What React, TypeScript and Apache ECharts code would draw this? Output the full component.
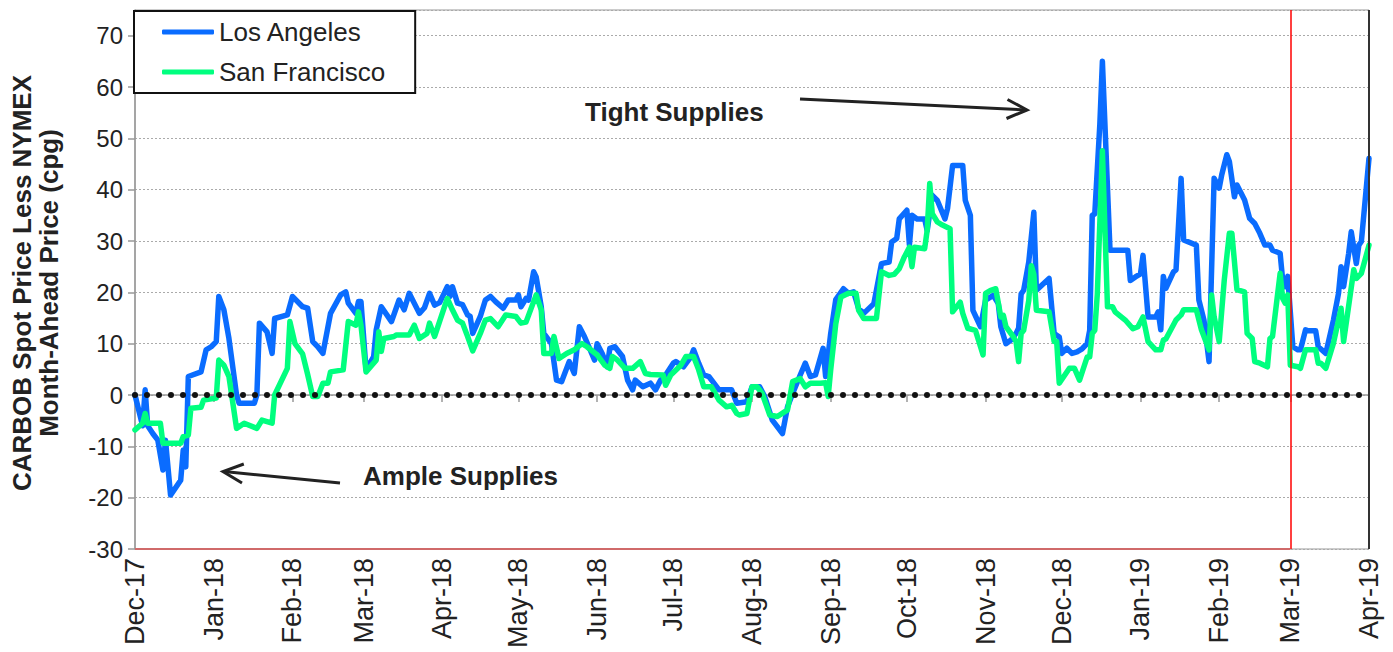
import React, { useEffect, useRef } from "react";
import * as echarts from "echarts";

const FONT = '"Liberation Sans", Arial, sans-serif';
const MONTHS = ["Jan", "Feb", "Mar", "Apr", "May", "Jun", "Jul", "Aug", "Sep", "Oct", "Nov", "Dec"];

const seriesNames = ["Los Angeles", "San Francisco"];
const seriesColors = ["#0A6CFF", "#00FF7F"];

const yTicks = { min: -30, max: 75, interval: 10 };
const cutoverDate = "2019-03-01";

const laData: [string, number][] = [
  ["2017-12-01", 0], ["2017-12-04", -6], ["2017-12-05", 1], ["2017-12-06", -6], ["2017-12-08", -7.5],
  ["2017-12-10", -8.8], ["2017-12-12", -14.6], ["2017-12-13", -8.8], ["2017-12-15", -19.5], ["2017-12-19", -16.6],
  ["2017-12-20", -10.7], ["2017-12-21", -14], ["2017-12-22", 3.6], ["2017-12-27", 4.5], ["2017-12-29", 8.8],
  ["2017-12-31", 9.4], ["2018-01-02", 10.4], ["2018-01-03", 19.2], ["2018-01-05", 16.6], ["2018-01-07", 11],
  ["2018-01-10", 0], ["2018-01-11", -1.6], ["2018-01-17", -1.6], ["2018-01-18", 0], ["2018-01-19", 14],
  ["2018-01-22", 12.3], ["2018-01-24", 8.1], ["2018-01-25", 14.9], ["2018-01-30", 15.6], ["2018-02-01", 19.2],
  ["2018-02-05", 17.2], ["2018-02-07", 16.9], ["2018-02-09", 10.4], ["2018-02-11", 9.4], ["2018-02-13", 8.1],
  ["2018-02-16", 15.9], ["2018-02-20", 19.5], ["2018-02-22", 20.1], ["2018-02-23", 17.9], ["2018-02-26", 15.9],
  ["2018-02-27", 18.2], ["2018-02-28", 18.2], ["2018-03-02", 4.9], ["2018-03-05", 7.5], ["2018-03-06", 12.7],
  ["2018-03-08", 17.2], ["2018-03-12", 14.3], ["2018-03-15", 18.5], ["2018-03-17", 16.6], ["2018-03-19", 19.8],
  ["2018-03-23", 15.9], ["2018-03-25", 17], ["2018-03-27", 19.8], ["2018-03-29", 17.5], ["2018-03-31", 18],
  ["2018-04-03", 21.1], ["2018-04-04", 19.2], ["2018-04-05", 21.1], ["2018-04-07", 17.9], ["2018-04-09", 17.6],
  ["2018-04-11", 15.6], ["2018-04-12", 15.3], ["2018-04-13", 12], ["2018-04-16", 15.3], ["2018-04-18", 18.5],
  ["2018-04-20", 19.2], ["2018-04-22", 18.2], ["2018-04-25", 16.9], ["2018-04-27", 18.5], ["2018-04-30", 18.5],
  ["2018-05-01", 19.5], ["2018-05-02", 17.2], ["2018-05-04", 18.8], ["2018-05-05", 18.5], ["2018-05-07", 24],
  ["2018-05-08", 23], ["2018-05-10", 17.2], ["2018-05-11", 12], ["2018-05-13", 10.7], ["2018-05-14", 10],
  ["2018-05-16", 2.9], ["2018-05-18", 2.6], ["2018-05-21", 6.5], ["2018-05-23", 4.2], ["2018-05-25", 13.3],
  ["2018-05-27", 11.4], ["2018-05-31", 6.8], ["2018-06-01", 10], ["2018-06-03", 8.1], ["2018-06-05", 5.5],
  ["2018-06-06", 9.1], ["2018-06-08", 9.4], ["2018-06-11", 7.5], ["2018-06-13", 2.9], ["2018-06-15", 1],
  ["2018-06-16", 2.9], ["2018-06-19", 1.6], ["2018-06-22", 2.3], ["2018-06-24", 1], ["2018-06-26", 2.9],
  ["2018-06-28", 3.9], ["2018-07-01", 6.2], ["2018-07-02", 6.5], ["2018-07-05", 5.5], ["2018-07-08", 7.5],
  ["2018-07-09", 8.8], ["2018-07-11", 6.2], ["2018-07-13", 3.9], ["2018-07-15", 3.6], ["2018-07-17", 2.3],
  ["2018-07-19", 1], ["2018-07-24", 1], ["2018-07-26", -1.6], ["2018-07-30", -1.3], ["2018-08-01", 1.6],
  ["2018-08-04", 1.6], ["2018-08-06", -0.3], ["2018-08-09", -4.9], ["2018-08-13", -7.5], ["2018-08-15", -2.3],
  ["2018-08-17", 0.3], ["2018-08-20", 3.9], ["2018-08-22", 6.2], ["2018-08-24", 3.6], ["2018-08-26", 3.9],
  ["2018-08-29", 9.1], ["2018-08-30", 3.6], ["2018-09-01", 12], ["2018-09-03", 18.6], ["2018-09-06", 20.7],
  ["2018-09-08", 19.8], ["2018-09-10", 20.1], ["2018-09-12", 16.8], ["2018-09-14", 15.9], ["2018-09-18", 17.8],
  ["2018-09-19", 20.4], ["2018-09-21", 25.6], ["2018-09-24", 25.9], ["2018-09-25", 29.8], ["2018-09-27", 30.5],
  ["2018-09-28", 34.3], ["2018-10-01", 36], ["2018-10-02", 29.2], ["2018-10-03", 35], ["2018-10-05", 34.3],
  ["2018-10-08", 34.3], ["2018-10-09", 32], ["2018-10-11", 38.9], ["2018-10-13", 37.9], ["2018-10-16", 34.3],
  ["2018-10-17", 36.3], ["2018-10-19", 44.7], ["2018-10-23", 44.7], ["2018-10-24", 37.9], ["2018-10-26", 35],
  ["2018-10-27", 16.5], ["2018-10-30", 13.3], ["2018-11-01", 18.5], ["2018-11-04", 19.4], ["2018-11-06", 17.8],
  ["2018-11-07", 13.3], ["2018-11-09", 10], ["2018-11-11", 10.7], ["2018-11-13", 12], ["2018-11-14", 13],
  ["2018-11-15", 19.7], ["2018-11-16", 20.4], ["2018-11-18", 25.9], ["2018-11-20", 35.6], ["2018-11-21", 20.4],
  ["2018-11-26", 22.7], ["2018-11-28", 12], ["2018-11-30", 11.3], ["2018-12-01", 8.1], ["2018-12-03", 9.1],
  ["2018-12-05", 8.1], ["2018-12-07", 8.4], ["2018-12-09", 9], ["2018-12-11", 10], ["2018-12-12", 12.6],
  ["2018-12-13", 35], ["2018-12-14", 35.3], ["2018-12-16", 52.8], ["2018-12-17", 65], ["2018-12-20", 28.2],
  ["2018-12-27", 28.2], ["2018-12-28", 22.3], ["2018-12-30", 23], ["2019-01-01", 23.6], ["2019-01-02", 27.2],
  ["2019-01-04", 15.2], ["2019-01-07", 15.2], ["2019-01-08", 16.2], ["2019-01-09", 12.7], ["2019-01-10", 23.1],
  ["2019-01-11", 20.8], ["2019-01-14", 24], ["2019-01-15", 24.4], ["2019-01-17", 42.2], ["2019-01-18", 30.2],
  ["2019-01-23", 29.2], ["2019-01-24", 18.5], ["2019-01-26", 14.6], ["2019-01-28", 6.5], ["2019-01-30", 42.2],
  ["2019-02-01", 40.3], ["2019-02-02", 42.9], ["2019-02-04", 46.8], ["2019-02-05", 45.5], ["2019-02-07", 38.6],
  ["2019-02-08", 40.9], ["2019-02-11", 38], ["2019-02-13", 34.4], ["2019-02-15", 33.4], ["2019-02-17", 31.5],
  ["2019-02-19", 29.2], ["2019-02-21", 29.2], ["2019-02-22", 28.2], ["2019-02-25", 27.6], ["2019-02-26", 22.4],
  ["2019-02-27", 21.1], ["2019-02-28", 23.1], ["2019-03-02", 9.4], ["2019-03-04", 8.8], ["2019-03-05", 8.8],
  ["2019-03-07", 12.7], ["2019-03-08", 12.5], ["2019-03-11", 12.5], ["2019-03-12", 9.4], ["2019-03-15", 8.1],
  ["2019-03-18", 14.6], ["2019-03-20", 19.8], ["2019-03-21", 25], ["2019-03-22", 21.1], ["2019-03-24", 27.6],
  ["2019-03-25", 31.8], ["2019-03-27", 25.6], ["2019-03-28", 29.2], ["2019-03-29", 29.9], ["2019-04-01", 46.1],
];

const sfData: [string, number][] = [
  ["2017-12-01", -6.8], ["2017-12-04", -5.5], ["2017-12-05", -3.6], ["2017-12-06", -5.5], ["2017-12-11", -5.5],
  ["2017-12-12", -9.4], ["2017-12-19", -9.4], ["2017-12-20", -8.1], ["2017-12-22", -7.8], ["2017-12-23", -2.6],
  ["2017-12-27", -2.4], ["2017-12-28", -1], ["2018-01-02", -0.6], ["2018-01-03", 6.8], ["2018-01-05", 5.8],
  ["2018-01-07", 3.6], ["2018-01-10", -6.5], ["2018-01-13", -5.5], ["2018-01-18", -6.5], ["2018-01-20", -4.9],
  ["2018-01-24", -5.5], ["2018-01-25", 0], ["2018-01-30", 5.2], ["2018-01-31", 14.3], ["2018-02-02", 10],
  ["2018-02-05", 8], ["2018-02-07", 4], ["2018-02-09", -0.3], ["2018-02-11", -0.3], ["2018-02-13", 2.3],
  ["2018-02-15", 2.3], ["2018-02-16", 4.5], ["2018-02-21", 4.9], ["2018-02-23", 14.3], ["2018-02-26", 13.6],
  ["2018-02-27", 16.2], ["2018-02-28", 13.6], ["2018-03-02", 4.5], ["2018-03-06", 6.8], ["2018-03-07", 12.3],
  ["2018-03-08", 8.5], ["2018-03-09", 11], ["2018-03-13", 11.4], ["2018-03-14", 11.7], ["2018-03-19", 11.7],
  ["2018-03-21", 13.6], ["2018-03-23", 11], ["2018-03-26", 12], ["2018-03-27", 14], ["2018-03-29", 11.4],
  ["2018-04-03", 18.8], ["2018-04-05", 16.6], ["2018-04-07", 14.6], ["2018-04-09", 14], ["2018-04-11", 11.4],
  ["2018-04-12", 10], ["2018-04-13", 8.6], ["2018-04-16", 12], ["2018-04-18", 14.6], ["2018-04-20", 14.9],
  ["2018-04-23", 13.3], ["2018-04-26", 15.6], ["2018-04-30", 15.3], ["2018-05-02", 14], ["2018-05-04", 14.2],
  ["2018-05-08", 19.5], ["2018-05-10", 16.6], ["2018-05-11", 8.1], ["2018-05-14", 8.1], ["2018-05-15", 11.4],
  ["2018-05-17", 7.1], ["2018-05-20", 8.1], ["2018-05-23", 8.8], ["2018-05-26", 10], ["2018-05-28", 9.4],
  ["2018-06-01", 7.8], ["2018-06-04", 5.8], ["2018-06-06", 5.2], ["2018-06-07", 7.5], ["2018-06-09", 6.8],
  ["2018-06-12", 5.2], ["2018-06-15", 5.2], ["2018-06-18", 6.5], ["2018-06-20", 4.2], ["2018-06-22", 4],
  ["2018-06-27", 3.9], ["2018-06-28", 1.9], ["2018-06-30", 3.9], ["2018-07-04", 5.8], ["2018-07-06", 7.5],
  ["2018-07-09", 7.5], ["2018-07-11", 4.9], ["2018-07-13", 1.6], ["2018-07-16", 1.6], ["2018-07-19", -1],
  ["2018-07-22", -2.3], ["2018-07-24", -2], ["2018-07-26", -3.6], ["2018-07-27", -3.9], ["2018-07-30", -3.6],
  ["2018-08-01", 1.6], ["2018-08-03", 1.6], ["2018-08-05", 0.3], ["2018-08-08", -3.9], ["2018-08-11", -4.2],
  ["2018-08-15", -2.9], ["2018-08-17", 2.6], ["2018-08-20", 3.2], ["2018-08-22", 1.6], ["2018-08-24", 2.3],
  ["2018-08-28", 2.3], ["2018-08-30", 2.4], ["2018-08-31", -0.3], ["2018-09-01", 4.9], ["2018-09-03", 13.9],
  ["2018-09-05", 19.1], ["2018-09-08", 19.8], ["2018-09-11", 19.8], ["2018-09-12", 16.5], ["2018-09-14", 14.9],
  ["2018-09-19", 14.9], ["2018-09-21", 24], ["2018-09-24", 23.3], ["2018-09-26", 23.5], ["2018-09-28", 24.6],
  ["2018-09-30", 26.9], ["2018-10-02", 28.8], ["2018-10-03", 25], ["2018-10-04", 28.8], ["2018-10-08", 28.5],
  ["2018-10-09", 32.1], ["2018-10-10", 41.2], ["2018-10-11", 35.3], ["2018-10-13", 33.7], ["2018-10-15", 33.1],
  ["2018-10-18", 32.4], ["2018-10-19", 16.2], ["2018-10-22", 18.1], ["2018-10-23", 15.9], ["2018-10-25", 13],
  ["2018-10-28", 12.6], ["2018-10-30", 9.4], ["2018-10-31", 7.8], ["2018-11-01", 19.8], ["2018-11-03", 20.4],
  ["2018-11-05", 20.7], ["2018-11-07", 15.2], ["2018-11-08", 15.5], ["2018-11-09", 13.3], ["2018-11-12", 11.3],
  ["2018-11-13", 10.4], ["2018-11-14", 6.5], ["2018-11-15", 12], ["2018-11-16", 12.6], ["2018-11-18", 18.4],
  ["2018-11-19", 25.2], ["2018-11-20", 23.5], ["2018-11-21", 16.5], ["2018-11-26", 16.2], ["2018-11-28", 10.4],
  ["2018-11-29", 10.4], ["2018-11-30", 2.3], ["2018-12-04", 5.2], ["2018-12-06", 5.2], ["2018-12-08", 2.9],
  ["2018-12-11", 7.4], ["2018-12-12", 7.4], ["2018-12-13", 12], ["2018-12-14", 12.6], ["2018-12-15", 19.7],
  ["2018-12-17", 47.6], ["2018-12-19", 17.2], ["2018-12-21", 17.2], ["2018-12-22", 16.2], ["2018-12-26", 14.6],
  ["2018-12-29", 12.9], ["2018-12-31", 13.3], ["2019-01-02", 15.2], ["2019-01-04", 10.4], ["2019-01-07", 8.8],
  ["2019-01-09", 8.8], ["2019-01-10", 10.7], ["2019-01-11", 10.9], ["2019-01-15", 14.6], ["2019-01-17", 15.6],
  ["2019-01-18", 16.6], ["2019-01-23", 16.6], ["2019-01-25", 12.7], ["2019-01-28", 8.8], ["2019-01-29", 19.5],
  ["2019-01-30", 15.3], ["2019-02-01", 10.4], ["2019-02-03", 22.4], ["2019-02-05", 31.5], ["2019-02-06", 31.5],
  ["2019-02-08", 20.5], ["2019-02-11", 20.1], ["2019-02-12", 12], ["2019-02-14", 11], ["2019-02-15", 6.5],
  ["2019-02-17", 6.2], ["2019-02-20", 5.5], ["2019-02-21", 11], ["2019-02-22", 11.4], ["2019-02-25", 23.7],
  ["2019-02-26", 18.8], ["2019-02-27", 17.9], ["2019-02-28", 19.5], ["2019-03-01", 5.8], ["2019-03-04", 5.5],
  ["2019-03-05", 5.2], ["2019-03-07", 8.8], ["2019-03-11", 8.8], ["2019-03-12", 6.2], ["2019-03-13", 6.2],
  ["2019-03-15", 5.2], ["2019-03-18", 10.1], ["2019-03-21", 16.9], ["2019-03-22", 10.4], ["2019-03-26", 24.4],
  ["2019-03-27", 22.7], ["2019-03-29", 23.7], ["2019-04-01", 29.2],
];

const yTitle = "CARBOB Spot Price Less NYMEX\nMonth-Ahead Price (cpg)";
const annotations = ["Tight Supplies", "Ample Supplies"];

function pad(n: number) {
  return n < 10 ? "0" + n : "" + n;
}

function buildDays(): string[] {
  const out: string[] = [];
  const start = Date.UTC(2017, 11, 1);
  const end = Date.UTC(2019, 3, 1);
  for (let t = start; t <= end; t += 86400000) {
    const d = new Date(t);
    out.push(d.getUTCFullYear() + "-" + pad(d.getUTCMonth() + 1) + "-" + pad(d.getUTCDate()));
  }
  return out;
}

const days = buildDays();
const isMonthStart = (_i: number, v: string) => typeof v === "string" && v.endsWith("-01");
const fmtMonth = (v: string) => {
  const [y, m] = v.split("-");
  return MONTHS[parseInt(m, 10) - 1] + "-" + y.slice(2);
};

const BOLD26 = 'bold 26px "Liberation Sans", Arial, sans-serif';

export default function App() {
  const ref = useRef<HTMLDivElement>(null);
  useEffect(() => {
    if (!ref.current) return;
    const chart = echarts.init(ref.current, undefined, { renderer: "svg" });
    const option: any = {
      animation: false,
      backgroundColor: "#ffffff",
      grid: { left: 135, right: 24, top: 10, bottom: 103, show: true, borderColor: "#999", borderWidth: 1 },
      legend: {
        orient: "vertical",
        left: 134,
        top: 11,
        data: seriesNames,
        icon: "roundRect",
        itemWidth: 52,
        itemHeight: 5,
        itemGap: 14,
        padding: [8, 30, 8, 28],
        borderColor: "#111",
        borderWidth: 2,
        borderRadius: 0,
        backgroundColor: "#ffffff",
        textStyle: { fontSize: 26, color: "#222", fontFamily: FONT, lineHeight: 26 },
      },
      xAxis: {
        type: "category",
        data: days,
        boundaryGap: false,
        axisLine: { lineStyle: { color: "#999", width: 1.5 } },
        axisTick: { show: true, interval: isMonthStart, length: 7, lineStyle: { color: "#999", width: 1.5 } },
        axisLabel: {
          interval: isMonthStart,
          rotate: 90,
          formatter: fmtMonth,
          fontSize: 27,
          color: "#222",
          fontFamily: FONT,
          margin: 9,
        },
        splitLine: { show: false },
      },
      yAxis: {
        type: "value",
        min: yTicks.min,
        max: yTicks.max,
        interval: yTicks.interval,
        axisLine: { show: true, lineStyle: { color: "#999", width: 1.5 } },
        axisTick: { show: true, length: 7, lineStyle: { color: "#999", width: 1.5 } },
        axisLabel: { fontSize: 24, color: "#222", fontFamily: FONT, margin: 12, showMaxLabel: false },
        splitLine: { show: true, lineStyle: { color: "#aaa", width: 1, type: [2, 2] } },
      },
      series: [
        {
          name: seriesNames[0],
          type: "line",
          data: laData,
          symbol: "none",
          showSymbol: false,
          lineStyle: { color: seriesColors[0], width: 5.5, cap: "round", join: "round" },
          itemStyle: { color: seriesColors[0] },
          z: 2,
        },
        {
          name: seriesNames[1],
          type: "line",
          data: sfData,
          symbol: "none",
          showSymbol: false,
          lineStyle: { color: seriesColors[1], width: 5.5, cap: "round", join: "round" },
          itemStyle: { color: seriesColors[1] },
          z: 3,
          markLine: {
            silent: true,
            symbol: ["none", "none"],
            label: { show: false },
            data: [
              { yAxis: 0, lineStyle: { color: "#111", width: 6, type: [0, 12], cap: "round" } },
              { xAxis: cutoverDate, lineStyle: { color: "#ff0000", width: 1.5, type: "solid" } },
              [
                { coord: [days[0], yTicks.min], lineStyle: { color: "#d06a6a", width: 2, type: "solid" } },
                { coord: [cutoverDate, yTicks.min] },
              ],
              { xAxis: days[days.length - 1], lineStyle: { color: "#333", width: 2, type: "solid" } },
            ],
          },
        },
      ],
      graphic: [
        {
          type: "text",
          x: 35,
          y: 283,
          rotation: Math.PI / 2,
          style: {
            text: yTitle,
            align: "center",
            verticalAlign: "middle",
            font: BOLD26,
            lineHeight: 27,
            fill: "#222",
          },
        },
        {
          type: "text",
          x: 585,
          y: 112,
          style: { text: annotations[0], align: "left", verticalAlign: "middle", font: BOLD26, fill: "#222" },
        },
        {
          type: "text",
          x: 363,
          y: 476,
          style: { text: annotations[1], align: "left", verticalAlign: "middle", font: BOLD26, fill: "#222" },
        },
        { type: "line", shape: { x1: 800, y1: 99, x2: 1026, y2: 110 }, style: { stroke: "#222", lineWidth: 3 } },
        {
          type: "polyline",
          shape: { points: [[1007.5, 99.5], [1027, 110], [1006.5, 118.5]] },
          style: { stroke: "#222", lineWidth: 3, fill: null },
        },
        { type: "line", shape: { x1: 340, y1: 483, x2: 224, y2: 471.6 }, style: { stroke: "#222", lineWidth: 3 } },
        {
          type: "polyline",
          shape: { points: [[243.8, 464], [223, 471.5], [242, 483]] },
          style: { stroke: "#222", lineWidth: 3, fill: null },
        },
      ],
    };
    chart.setOption(option);
    return () => chart.dispose();
  }, []);
  return <div ref={ref} style={{ position: "absolute", left: 0, top: 0, width: 1393, height: 652 }} />;
}
